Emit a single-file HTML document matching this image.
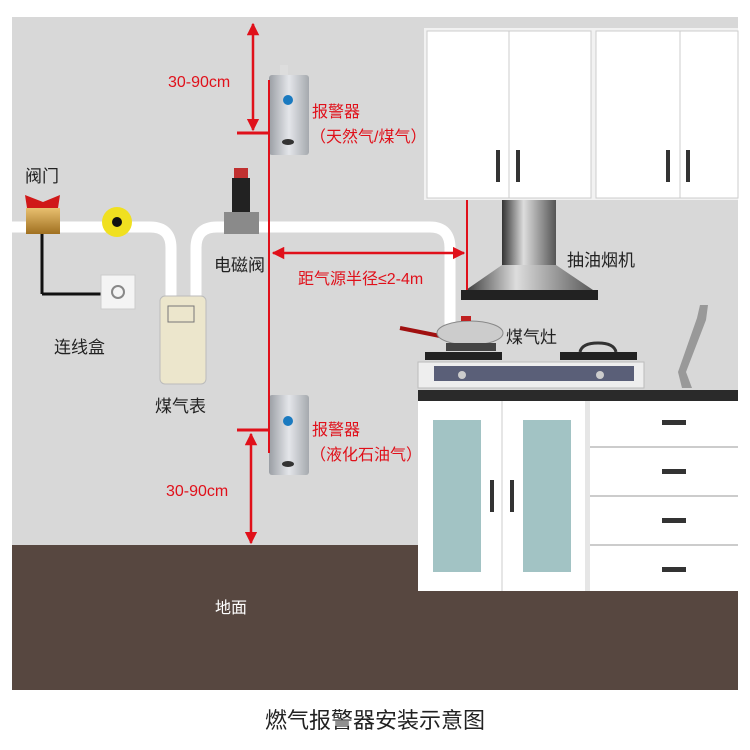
<!DOCTYPE html>
<html><head><meta charset="utf-8"><style>
html,body{margin:0;padding:0;background:#fff}
svg{display:block}
text{font-family:"Liberation Sans","Noto Sans CJK SC",sans-serif}
</style></head><body>
<svg width="750" height="750" viewBox="0 0 750 750" xmlns="http://www.w3.org/2000/svg">
<defs>
<linearGradient id="silver" x1="0" x2="1"><stop offset="0" stop-color="#9a9ea4"/><stop offset="0.5" stop-color="#e4e6ea"/><stop offset="1" stop-color="#a5a9ae"/></linearGradient>
<linearGradient id="chim" x1="0" x2="1"><stop offset="0" stop-color="#333"/><stop offset="0.4" stop-color="#ddd"/><stop offset="1" stop-color="#555"/></linearGradient>
<linearGradient id="brass" x1="0" y1="0" x2="0" y2="1"><stop offset="0" stop-color="#e8c070"/><stop offset="1" stop-color="#a07020"/></linearGradient>
<marker id="ah" viewBox="0 0 10 10" refX="9" refY="5" markerWidth="5" markerHeight="5" orient="auto-start-reverse"><path d="M0,0L10,5L0,10z" fill="#e0101a"/></marker>
</defs>
<rect x="12" y="17" width="726" height="530" fill="#d8d8d8"/>
<rect x="12" y="545" width="726" height="145" fill="#574740"/>
<rect x="424" y="28" width="314" height="172" fill="#f2f2f2"/>
<rect x="427" y="31" width="164" height="167" fill="#fff" stroke="#ccc"/>
<rect x="596" y="31" width="142" height="167" fill="#fff" stroke="#ccc"/>
<line x1="509" y1="31" x2="509" y2="198" stroke="#ccc"/>
<line x1="680" y1="31" x2="680" y2="198" stroke="#ccc"/>
<rect x="496" y="150" width="4" height="32" fill="#333"/><rect x="516" y="150" width="4" height="32" fill="#333"/>
<rect x="666" y="150" width="4" height="32" fill="#333"/><rect x="686" y="150" width="4" height="32" fill="#333"/>
<path d="M12,227 H150 Q171,227 171,248 V297" fill="none" stroke="#fff" stroke-width="11"/>
<path d="M196,297 V248 Q196,227 217,227 H430 Q450,227 450,248 V330" fill="none" stroke="#fff" stroke-width="11"/>
<rect x="502" y="200" width="54" height="66" fill="url(#chim)"/>
<path d="M502,265 L556,265 L596,292 L463,292 Z" fill="url(#chim)"/>
<rect x="461" y="290" width="137" height="10" fill="#222"/>
<path d="M700,305 L708,305 L706,320 L686,372 L692,388 L682,388 L678,372 L697,318 Z" fill="#999"/>
<rect x="425" y="352" width="77" height="8" fill="#222"/>
<rect x="560" y="352" width="77" height="8" fill="#222"/>
<path d="M580,352 Q582,343 598,343 Q614,343 616,352" fill="none" stroke="#333" stroke-width="3"/>
<rect x="418" y="362" width="226" height="26" fill="#eee" stroke="#bbb"/>
<rect x="434" y="366" width="200" height="15" fill="#5a5f78"/>
<circle cx="462" cy="375" r="4" fill="#ccc"/><circle cx="600" cy="375" r="4" fill="#ccc"/>
<line x1="400" y1="328" x2="440" y2="336" stroke="#a01010" stroke-width="4"/>
<ellipse cx="470" cy="333" rx="33" ry="12" fill="#ccc" stroke="#888"/>
<rect x="461" y="316" width="10" height="5" fill="#c02020"/>
<rect x="446" y="343" width="50" height="8" fill="#444"/>
<rect x="418" y="390" width="320" height="11" fill="#2a2a2a"/>
<rect x="418" y="401" width="320" height="190" fill="#fff"/>
<line x1="502" y1="401" x2="502" y2="591" stroke="#ccc"/>
<rect x="585" y="401" width="5" height="190" fill="#e6e6e6"/>
<rect x="433" y="420" width="48" height="152" fill="#a2c3c4"/>
<rect x="523" y="420" width="48" height="152" fill="#a2c3c4"/>
<rect x="490" y="480" width="4" height="32" fill="#333"/><rect x="510" y="480" width="4" height="32" fill="#333"/>
<line x1="590" y1="447" x2="738" y2="447" stroke="#ccc" stroke-width="2"/>
<line x1="590" y1="496" x2="738" y2="496" stroke="#ccc" stroke-width="2"/>
<line x1="590" y1="545" x2="738" y2="545" stroke="#ccc" stroke-width="2"/>
<rect x="662" y="420" width="24" height="5" fill="#333"/><rect x="662" y="469" width="24" height="5" fill="#333"/>
<rect x="662" y="518" width="24" height="5" fill="#333"/><rect x="662" y="567" width="24" height="5" fill="#333"/>
<rect x="26" y="208" width="34" height="26" fill="url(#brass)"/>
<path d="M25,195 L43,202 L60,195 L58,208 L27,208 Z" fill="#d01818"/>
<line x1="42" y1="234" x2="42" y2="294" stroke="#111" stroke-width="3"/>
<line x1="42" y1="294" x2="118" y2="294" stroke="#111" stroke-width="3"/>
<rect x="101" y="275" width="34" height="34" fill="#f4f4f4" stroke="#ccc"/>
<circle cx="118" cy="292" r="6" fill="none" stroke="#888" stroke-width="2"/>
<circle cx="117" cy="222" r="15" fill="#f0e020"/><circle cx="117" cy="222" r="5" fill="#111"/>
<rect x="160" y="296" width="46" height="88" rx="5" fill="#ece6cc" stroke="#bbb"/>
<rect x="168" y="306" width="26" height="16" fill="none" stroke="#777"/>
<rect x="232" y="178" width="18" height="34" fill="#222"/>
<rect x="234" y="168" width="14" height="10" fill="#c03030"/>
<rect x="224" y="212" width="35" height="22" fill="#8a8a8a"/>
<rect x="269" y="75" width="40" height="80" rx="3" fill="url(#silver)"/>
<rect x="280" y="65" width="8" height="10" fill="#ddd"/>
<circle cx="288" cy="100" r="5" fill="#1a7ac0"/>
<ellipse cx="288" cy="142" rx="6" ry="3" fill="#333"/>
<rect x="269" y="395" width="40" height="80" rx="3" fill="url(#silver)"/>
<circle cx="288" cy="421" r="5" fill="#1a7ac0"/>
<ellipse cx="288" cy="464" rx="6" ry="3" fill="#333"/>
<line x1="269" y1="80" x2="269" y2="453" stroke="#e0101a" stroke-width="2"/>
<line x1="253" y1="24" x2="253" y2="130" stroke="#e0101a" stroke-width="2.5" marker-start="url(#ah)" marker-end="url(#ah)"/>
<line x1="237" y1="133" x2="269" y2="133" stroke="#e0101a" stroke-width="3"/>
<line x1="251" y1="434" x2="251" y2="543" stroke="#e0101a" stroke-width="2.5" marker-start="url(#ah)" marker-end="url(#ah)"/>
<line x1="237" y1="430" x2="269" y2="430" stroke="#e0101a" stroke-width="3"/>
<line x1="273" y1="253" x2="464" y2="253" stroke="#e0101a" stroke-width="2.5" marker-start="url(#ah)" marker-end="url(#ah)"/>
<line x1="467" y1="200" x2="467" y2="290" stroke="#e0101a" stroke-width="2"/>
<g font-size="17" fill="#222">
<text x="25" y="182">阀门</text>
<text x="54" y="353">连线盒</text>
<text x="155" y="412">煤气表</text>
<text x="214" y="271">电磁阀</text>
<text x="567" y="266">抽油烟机</text>
<text x="506" y="343">煤气灶</text>
</g>
<g font-size="16" fill="#e0101a">
<text x="168" y="87">30-90cm</text>
<text x="312" y="117">报警器</text>
<text x="310" y="142">（天然气/煤气）</text>
<text x="298" y="284">距气源半径≤2-4m</text>
<text x="312" y="435">报警器</text>
<text x="310" y="460">（液化石油气）</text>
<text x="166" y="496">30-90cm</text>
</g>
<text x="215" y="613" font-size="16" fill="#fff">地面</text>
<text x="375" y="728" font-size="22" fill="#222" text-anchor="middle">燃气报警器安装示意图</text>
</svg>
</body></html>
